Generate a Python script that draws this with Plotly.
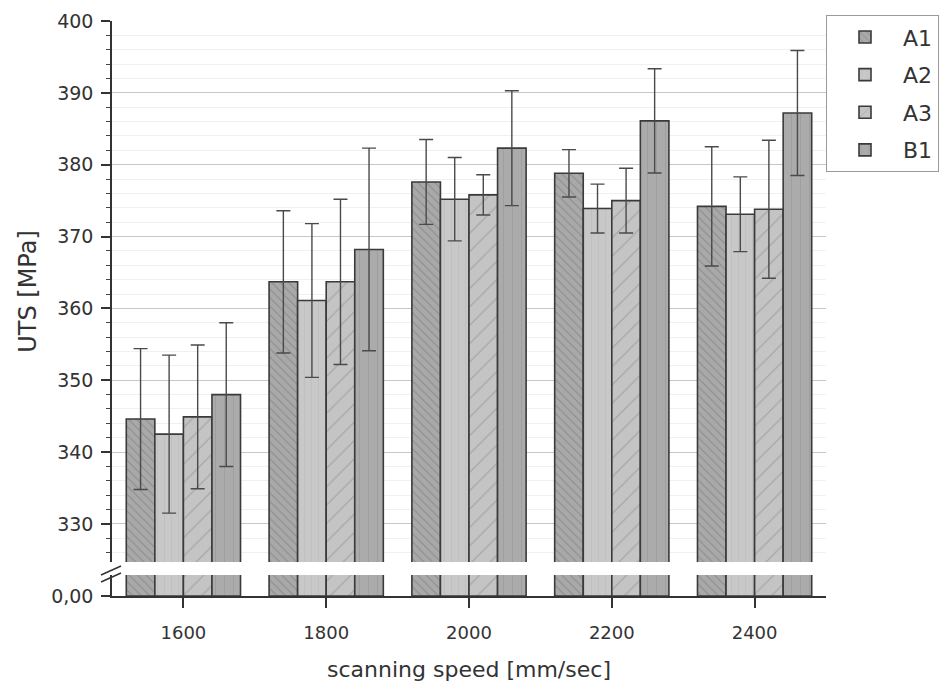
import plotly.graph_objects as go

speeds = ["1600", "1800", "2000", "2200", "2400"]
series_names = ["A1", "A2", "A3", "B1"]
uts = {
    "A1": [344.6, 363.7, 377.6, 378.8, 374.2],
    "A2": [342.5, 361.1, 375.2, 373.9, 373.1],
    "A3": [344.9, 363.7, 375.8, 375.0, 373.8],
    "B1": [348.0, 368.2, 382.3, 386.1, 387.2],
}
uts_err = {
    "A1": [9.8, 9.9, 5.9, 3.3, 8.3],
    "A2": [11.0, 10.7, 5.8, 3.4, 5.2],
    "A3": [10.0, 11.5, 2.8, 4.5, 9.6],
    "B1": [10.0, 14.1, 8.0, 7.25, 8.7],
}
styles = {
    "A1": dict(bg="#a9a9a9", fg="#6f6f6f", shape="\\", size=6, sol=0.18),
    "A2": dict(bg="#c8c8c8", fg="#b8b8b8", shape="|", size=7, sol=0.15),
    "A3": dict(bg="#c4c4c4", fg="#8a8a8a", shape="/", size=13, sol=0.1),
    "B1": dict(bg="#ababab", fg="#939393", shape="|", size=9, sol=0.12),
}

fig = go.Figure()
for name in series_names:
    s = styles[name]
    marker = dict(
        color=s["bg"],
        line=dict(color="#3a3a3a", width=1.6),
        pattern=dict(shape=s["shape"], bgcolor=s["bg"], fgcolor=s["fg"],
                     size=s["size"], solidity=s["sol"]),
    )
    fig.add_trace(go.Bar(
        x=speeds, y=uts[name], name=name, xaxis="x2", yaxis="y",
        marker=marker, legendgroup=name,
        error_y=dict(type="data", array=uts_err[name], color="#4a4a4a",
                     thickness=1.4, width=7),
    ))
    fig.add_trace(go.Bar(
        x=speeds, y=uts[name], name=name, xaxis="x", yaxis="y2",
        marker=marker, legendgroup=name, showlegend=False,
    ))

FONT = "DejaVu Sans, Liberation Sans, Arial, sans-serif"
axis_font = dict(family=FONT, color="#333333")

fig.update_layout(
    width=940, height=695,
    margin=dict(l=112, r=114, t=21, b=99, autoexpand=False),
    paper_bgcolor="white", plot_bgcolor="white",
    barmode="group", bargap=0.2, bargroupgap=0,
    font=dict(family=FONT, size=16, color="#333333"),
    xaxis=dict(
        domain=[0, 1], anchor="y2", type="category", range=[-0.5, 4.5],
        showline=True, linecolor="#333333", linewidth=1.5,
        ticks="outside", ticklen=10, tickcolor="#333333", tickwidth=1.5,
        ticklabelstandoff=10,
        tickfont=dict(size=18, **axis_font),
        title=dict(text="scanning speed [mm/sec]", font=dict(size=22, **axis_font), standoff=19),
        showgrid=False, zeroline=False,
    ),
    xaxis2=dict(
        domain=[0, 1], anchor="y", matches="x", type="category",
        showticklabels=False, showline=False, ticks="", showgrid=False, zeroline=False,
    ),
    yaxis=dict(
        domain=[0.0591, 1], anchor="x2", range=[324.7, 400],
        tickvals=[330, 340, 350, 360, 370, 380, 390, 400],
        showline=True, linecolor="#333333", linewidth=1.5,
        ticks="outside", ticklen=9, tickcolor="#333333", tickwidth=1.5,
        ticklabelstandoff=4,
        tickfont=dict(size=19, **axis_font),
        showgrid=True, gridcolor="#c6c6c6", gridwidth=1,
        minor=dict(dtick=2, tick0=0, ticks="outside", ticklen=4, tickcolor="#444444",
                   tickwidth=1.2, showgrid=True, gridcolor="#f0f0f0", gridwidth=1),
        title=dict(text="UTS [MPa]", font=dict(size=24, **axis_font), standoff=14),
        zeroline=False,
    ),
    yaxis2=dict(
        domain=[0, 0.0365], anchor="x", range=[0, 3],
        tickvals=[0], ticktext=["0,00"],
        showline=True, linecolor="#333333", linewidth=1.5,
        ticks="outside", ticklen=9, tickcolor="#333333", tickwidth=1.5,
        ticklabelstandoff=4,
        tickfont=dict(size=19, **axis_font),
        showgrid=False, zeroline=False,
    ),
    legend=dict(
        x=1.0, y=1.01, xanchor="left", yanchor="top",
        bordercolor="#9a9a9a", borderwidth=1, bgcolor="white",
        font=dict(size=22, **axis_font), tracegroupgap=6,
        itemwidth=66, traceorder="grouped",
    ),
)

# axis break marks on the y axis
for dy in (0, 7):
    fig.add_shape(
        type="line", xref="paper", yref="paper",
        xsizemode="pixel", ysizemode="pixel", xanchor=0, yanchor=0.0591,
        x0=-11, x1=9, y0=-13 - dy, y1=-4 - dy,
        line=dict(color="#333333", width=1.5),
    )

fig.write_html("out.html")
